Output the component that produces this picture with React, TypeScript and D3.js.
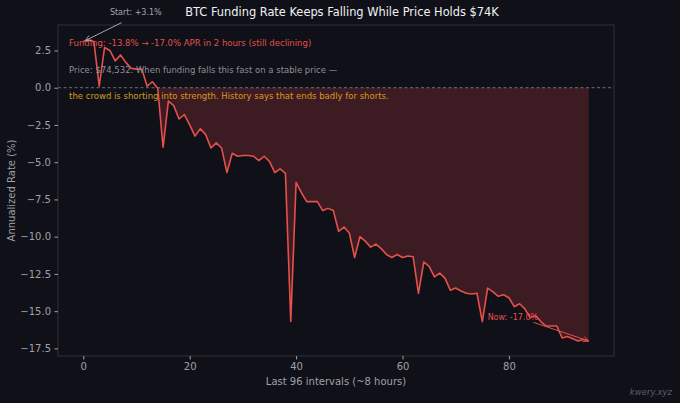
import { useEffect, useRef } from 'react';
import * as d3 from 'd3';

// Annualized funding rate (%) for the last 96 intervals
const rates: number[] = [
  3.1, 3.2, 3.1, 0.1, 2.7, 2.5, 1.8, 2.2, 1.7, 1.3,
  1.25, 1.25, 0.1, 0.4, -0.05, -4.0, -0.9, -1.2, -2.1, -1.8,
  -2.5, -3.25, -2.75, -3.15, -4.05, -3.7, -4.05, -5.7, -4.4, -4.6,
  -4.55, -4.55, -4.6, -4.9, -4.6, -4.95, -5.7, -5.45, -5.75, -15.7,
  -6.35, -7.05, -7.65, -7.65, -7.65, -8.25, -8.1, -8.25, -9.65, -9.35,
  -9.75, -11.4, -10.0, -10.3, -10.7, -10.5, -10.8, -11.2, -11.4, -11.2,
  -11.4, -11.3, -11.35, -13.8, -11.7, -12.0, -12.7, -12.45, -12.8, -13.6,
  -13.45, -13.65, -13.8, -13.85, -13.8, -15.7, -13.45, -13.7, -14.0, -13.9,
  -14.1, -14.7, -14.5, -14.85, -15.45, -15.3, -15.7, -16.0, -16.0, -16.0,
  -16.8, -16.7, -16.85, -17.0, -16.9, -17.0,
];

const xTicks = [0, 20, 40, 60, 80];
const yTicks = [2.5, 0, -2.5, -5, -7.5, -10, -12.5, -15, -17.5];

const titleText = 'BTC Funding Rate Keeps Falling While Price Holds $74K';
const noteLines = [
  { text: 'Funding: -13.8% → -17.0% APR in 2 hours (still declining)', color: '#e0514c' },
  { text: 'Price: $74,532. When funding falls this fast on a stable price —', color: '#8e8f96' },
  { text: 'the crowd is shorting into strength. History says that ends badly for shorts.', color: '#d39a22' },
];
const startLabel = 'Start: +3.1%';
const nowLabel = 'Now: -17.0%';

const W = 680;
const H = 403;
const FONT = 'DejaVu Sans, sans-serif';
const BG = '#0f1018';
const LINE = '#e5504b';

const Chart = () => {
  const svgRef = useRef<SVGSVGElement>(null);

  useEffect(() => {
    if (!svgRef.current) return;
    document.body.style.margin = '0';
    document.body.style.background = BG;

    const svg = d3.select(svgRef.current);
    svg.selectAll('*').remove();

    const margin = { top: 25, right: 66, bottom: 47, left: 58 };
    const innerW = W - margin.left - margin.right;
    const innerH = H - margin.top - margin.bottom;

    const n = rates.length;
    const pad = (n - 1) * 0.05;
    const x = d3.scaleLinear().domain([-pad, n - 1 + pad]).range([0, innerW]);
    const yMin = d3.min(rates) as number;
    const yMax = d3.max(rates) as number;
    const yPad = (yMax - yMin) * 0.05;
    const y = d3.scaleLinear().domain([yMin - yPad, yMax + yPad]).range([innerH, 0]);

    svg.append('rect').attr('width', W).attr('height', H).attr('fill', BG);

    const defs = svg.append('defs');
    const addArrow = (id: string, color: string) => {
      defs.append('marker')
        .attr('id', id)
        .attr('viewBox', '0 0 10 10')
        .attr('refX', 9).attr('refY', 5)
        .attr('markerWidth', 7).attr('markerHeight', 7)
        .attr('orient', 'auto')
        .append('path')
        .attr('d', 'M1,1 L9,5 L1,9')
        .attr('fill', 'none')
        .attr('stroke', color)
        .attr('stroke-width', 1.2);
    };
    addArrow('arrow-gray', '#a5a6ab');
    addArrow('arrow-red', LINE);

    const g = svg.append('g').attr('transform', `translate(${margin.left},${margin.top})`);

    // negative area between line and zero
    const area = d3.area<number>()
      .defined(d => d < 0)
      .x((_, i) => x(i))
      .y0(y(0))
      .y1(d => y(d));
    g.append('path')
      .datum(rates)
      .attr('d', area)
      .attr('fill', '#e04a48')
      .attr('fill-opacity', 0.22);

    // zero line
    g.append('line')
      .attr('x1', 0).attr('x2', innerW)
      .attr('y1', y(0)).attr('y2', y(0))
      .attr('stroke', '#b8b8bc')
      .attr('stroke-width', 0.8)
      .attr('stroke-dasharray', '3,2.5')
      .attr('opacity', 0.7);

    const line = d3.line<number>().x((_, i) => x(i)).y(d => y(d));
    g.append('path')
      .datum(rates)
      .attr('d', line)
      .attr('fill', 'none')
      .attr('stroke', LINE)
      .attr('stroke-width', 1.6)
      .attr('stroke-linejoin', 'round');

    // spines
    g.append('rect')
      .attr('width', innerW).attr('height', innerH)
      .attr('fill', 'none')
      .attr('stroke', '#2e2f38')
      .attr('stroke-width', 1);

    // axes
    const xAxis = g.append('g')
      .attr('transform', `translate(0,${innerH})`)
      .call(d3.axisBottom(x).tickValues(xTicks).tickSize(3.5).tickPadding(3.5).tickFormat(d3.format('d')));
    const yAxis = g.append('g')
      .call(d3.axisLeft(y).tickValues(yTicks).tickSize(3.5).tickPadding(3.5).tickFormat(d3.format('.1f')));
    [xAxis, yAxis].forEach(ax => {
      ax.select('.domain').remove();
      ax.selectAll('line').attr('stroke', '#a0a1a6');
      ax.selectAll('text')
        .attr('fill', '#a0a1a6')
        .attr('font-size', '10px')
        .attr('font-family', FONT);
    });

    // notes
    noteLines.forEach((nl, i) => {
      g.append('text')
        .attr('x', innerW * 0.02)
        .attr('y', 21 + i * 26.5)
        .attr('fill', nl.color)
        .attr('font-size', '8.5px')
        .attr('font-family', FONT)
        .text(nl.text);
    });

    // start annotation
    g.append('line')
      .attr('x1', x(7.2)).attr('y1', y(4.3) - 1)
      .attr('x2', x(0) + 2).attr('y2', y(rates[0]) - 1)
      .attr('stroke', '#a5a6ab')
      .attr('stroke-width', 1)
      .attr('marker-end', 'url(#arrow-gray)');
    g.append('text')
      .attr('x', x(5))
      .attr('y', y(4.3) - 9)
      .attr('fill', '#a5a6ab')
      .attr('font-size', '8px')
      .attr('font-family', FONT)
      .text(startLabel);

    // now annotation
    g.append('line')
      .attr('x1', x(84.6)).attr('y1', y(-15.75))
      .attr('x2', x(n - 1)).attr('y2', y(rates[n - 1]))
      .attr('stroke', LINE)
      .attr('stroke-width', 1)
      .attr('marker-end', 'url(#arrow-red)');
    g.append('text')
      .attr('x', x(76))
      .attr('y', y(-15.6))
      .attr('fill', LINE)
      .attr('font-size', '8px')
      .attr('font-family', FONT)
      .text(nowLabel);

    // labels
    g.append('text')
      .attr('x', innerW / 2)
      .attr('y', innerH + 29)
      .attr('text-anchor', 'middle')
      .attr('fill', '#a0a1a6')
      .attr('font-size', '10px')
      .attr('font-family', FONT)
      .text('Last 96 intervals (~8 hours)');
    g.append('text')
      .attr('transform', `translate(${-43},${innerH / 2}) rotate(-90)`)
      .attr('text-anchor', 'middle')
      .attr('fill', '#a0a1a6')
      .attr('font-size', '10px')
      .attr('font-family', FONT)
      .text('Annualized Rate (%)');

    svg.append('text')
      .attr('x', W / 2 + 2)
      .attr('y', 16)
      .attr('text-anchor', 'middle')
      .attr('fill', '#f2f2f4')
      .attr('font-size', '11.4px')
      .attr('font-family', FONT)
      .text(titleText);

    svg.append('text')
      .attr('x', W - 8)
      .attr('y', H - 8)
      .attr('text-anchor', 'end')
      .attr('fill', '#5d5e66')
      .attr('font-size', '8.5px')
      .attr('font-style', 'italic')
      .attr('font-family', FONT)
      .text('kwery.xyz');
  }, []);

  return <svg ref={svgRef} width={W} height={H} style={{ display: 'block' }} />;
};

export default function App() {
  return <Chart />;
}
